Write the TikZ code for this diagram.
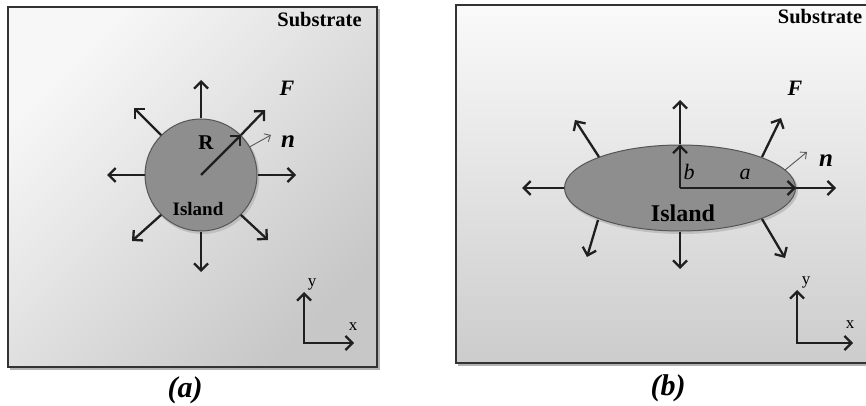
\documentclass[tikz,border=0pt]{standalone}
\usepackage{fontspec}
\setmainfont{Liberation Serif}
\usetikzlibrary{arrows.meta,shapes.geometric}
\definecolor{frame}{HTML}{333333}
\definecolor{islandfill}{HTML}{8E8E8E}
\definecolor{islandedge}{HTML}{555555}
\begin{document}
\begin{tikzpicture}[x=1pt,y=-1pt,
  force/.style={line width=2.3pt,color=black!88,-{Straight Barb[length=7pt,width=14pt,line width=2.3pt]}},
  normal/.style={line width=0.9pt,color=black!65,-{Straight Barb[length=5pt,width=9pt,line width=0.9pt]}},
  panel/.style={line width=2.4pt,draw=frame},
  island/.style={draw=islandedge,line width=1pt,fill=islandfill,inner sep=0pt},
  lbl/.style={inner sep=0pt,font=\bfseries\fontsize{20.5}{20.5}\selectfont},
  ilbl/.style={inner sep=0pt,font=\bfseries\itshape\fontsize{22}{22}\selectfont},
  axl/.style={inner sep=0pt,font=\fontsize{17}{17}\selectfont},
  captxt/.style={inner sep=0pt,font=\bfseries\itshape\fontsize{30}{30}\selectfont}]
\useasboundingbox (0,0) rectangle (866,406);
\fill[white] (0,0) rectangle (866,406);
% ---------------- panel (a)
\fill[black!30] (10,9.5) rectangle (379.5,369.5);
\draw[panel,top color=black!3,bottom color=black!22,shading angle=45] (8,7) rectangle (377,367);
\node[lbl] (subA) at (319.5,20) {Substrate};
\fill[black!25] (202.5,177) circle[radius=57pt];
\node[island,circle,minimum size=112pt] (isl) at (201,175) {};
\coordinate (aN) at (201,80);
\coordinate (aS) at (201,272);
\coordinate (aW) at (107,175);
\coordinate (aE) at (296,175);
\coordinate (aNE) at (265,110);
\coordinate (aNW) at (134,108);
\coordinate (aSW) at (132,241);
\coordinate (aSE) at (268,240);
\coordinate (aNn) at (271,135);
\draw[force] (isl.north) -- (aN);
\draw[force] (isl.south) -- (aS);
\draw[force] (isl.west) -- (aW);
\draw[force] (isl.east) -- (aE);
\draw[force] (isl.45) -- (aNE);
\draw[force] (isl.135) -- (aNW);
\draw[force] (isl.225) -- (aSW);
\draw[force] (isl.-45) -- (aSE);
\draw[force] (isl.center) -- (isl.45);
\draw[normal] (isl.30) -- (aNn);
\node[lbl,font=\bfseries\fontsize{21}{21}\selectfont] (R) at (206,143) {R};
\node[lbl,font=\bfseries\fontsize{19}{19}\selectfont] (islA) at (198,209) {Island};
\node[ilbl] (FA) at (287,88) {F};
\node[ilbl,font=\bfseries\itshape\fontsize{25}{25}\selectfont] (nA) at (288,142) {n};
\coordinate (oA) at (304,343);
\coordinate (yA) at (304,292);
\coordinate (xA) at (354,343);
\draw[force,line cap=rect] (oA) -- (yA);
\draw[force,line cap=rect] (oA) -- (xA);
\node[axl] (ylA) at (312,284) {y};
\node[axl] (xlA) at (353,327) {x};
\node[captxt] (capA) at (185,390) {(a)};
% ---------------- panel (b)
\fill[black!30] (458,7.5) rectangle (871,365.5);
\draw[panel,top color=black!2,bottom color=black!20] (456,5) rectangle (869,363);
\node[lbl] (subB) at (820,17) {Substrate};
\fill[black!25] (681.5,190) ellipse[x radius=116.5pt,y radius=44pt];
\node[island,ellipse,minimum width=231pt,minimum height=86pt] (ell) at (680,188) {};
\coordinate (bN) at (680,100);
\coordinate (bS) at (680,269);
\coordinate (bW) at (522,188);
\coordinate (bE) at (836,188);
\coordinate (bNWs) at (599,157);
\coordinate (bNW) at (575,120);
\coordinate (bNEs) at (762,157);
\coordinate (bNE) at (781,118);
\coordinate (bSWs) at (598,220);
\coordinate (bSW) at (587,257);
\coordinate (bSEs) at (762,219);
\coordinate (bSE) at (785,258);
\coordinate (bns) at (785,170);
\coordinate (bn) at (807,152);
\draw[force] (ell.north) -- (bN);
\draw[force] (ell.south) -- (bS);
\draw[force] (ell.west) -- (bW);
\draw[force] (ell.east) -- (bE);
\draw[force] (bNWs) -- (bNW);
\draw[force] (bNEs) -- (bNE);
\draw[force] (bSWs) -- (bSW);
\draw[force] (bSEs) -- (bSE);
\draw[force] (ell.center) -- (ell.north);
\draw[force] (ell.center) -- (ell.east);
\draw[normal] (bns) -- (bn);
\node[inner sep=0pt,font=\itshape\fontsize{22}{22}\selectfont] (bl) at (689,172) {b};
\node[inner sep=0pt,font=\itshape\fontsize{22}{22}\selectfont] (al) at (745,174) {a};
\node[lbl,font=\bfseries\fontsize{24}{24}\selectfont] (islB) at (683,213) {Island};
\node[ilbl] (FB) at (795,88) {F};
\node[ilbl,font=\bfseries\itshape\fontsize{25}{25}\selectfont] (nB) at (826,161) {n};
\coordinate (oB) at (797,343);
\coordinate (yB) at (797,290);
\coordinate (xB) at (853,343);
\draw[force,line cap=rect] (oB) -- (yB);
\draw[force,line cap=rect] (oB) -- (xB);
\node[axl] (ylB) at (806,282) {y};
\node[axl] (xlB) at (850,325) {x};
\node[captxt] (capB) at (668,388) {(b)};
\end{tikzpicture}
\end{document}
